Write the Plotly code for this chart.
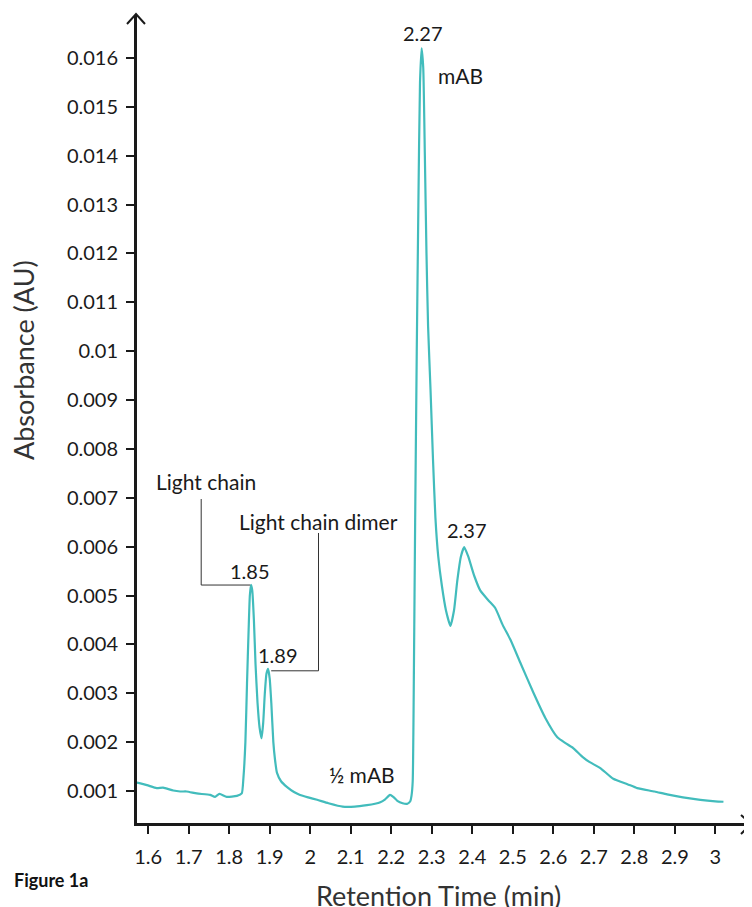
import plotly.graph_objects as go

# ---------------- data ----------------
time_min = [
    1.570, 1.572, 1.597, 1.621, 1.637, 1.662, 1.679, 1.695, 1.720, 1.753, 1.765, 1.776,
    1.794, 1.819, 1.831, 1.835, 1.840, 1.844, 1.848, 1.851, 1.854, 1.857, 1.861, 1.865,
    1.870, 1.875, 1.880, 1.884, 1.888, 1.892, 1.896, 1.900, 1.904, 1.909, 1.913, 1.918,
    1.928, 1.943, 1.960, 1.975, 1.995, 2.017, 2.045, 2.080, 2.110, 2.140, 2.160, 2.173,
    2.185, 2.197, 2.205, 2.215, 2.228, 2.240, 2.247, 2.250, 2.253, 2.256, 2.259, 2.263,
    2.267, 2.271, 2.275, 2.279, 2.283, 2.287, 2.291, 2.297, 2.303, 2.309, 2.316, 2.325,
    2.335, 2.346, 2.355, 2.363, 2.372, 2.380, 2.390, 2.405, 2.420, 2.440, 2.457, 2.475,
    2.494, 2.520, 2.551, 2.580, 2.610, 2.630, 2.649, 2.672, 2.690, 2.716, 2.748, 2.783,
    2.807, 2.850, 2.881, 2.920, 2.963, 3.000, 3.020,
]
absorbance = [
    0.00117, 0.00117, 0.00112, 0.00106, 0.00107, 0.00101, 0.00099, 0.00099, 0.00095, 0.00092, 0.00088, 0.00094,
    0.00088, 0.00090, 0.00095, 0.00125, 0.00200, 0.00320, 0.00430, 0.00500, 0.00522, 0.00510, 0.00450, 0.00360,
    0.00280, 0.00230, 0.00208, 0.00240, 0.00300, 0.00340, 0.00350, 0.00330, 0.00280, 0.00200, 0.00165, 0.00137,
    0.00120, 0.00108, 0.00098, 0.00092, 0.00087, 0.00082, 0.00075, 0.00068, 0.00068, 0.00071, 0.00074, 0.00077,
    0.00083, 0.00092, 0.00088, 0.00080, 0.00075, 0.00074, 0.00079, 0.00090, 0.00120, 0.00350, 0.00650, 0.01000,
    0.01300, 0.01550, 0.01620, 0.01580, 0.01400, 0.01200, 0.01050, 0.00920, 0.00780, 0.00660, 0.00580, 0.00520,
    0.00470, 0.00438, 0.00470, 0.00530, 0.00580, 0.00599, 0.00580, 0.00540, 0.00510, 0.00490, 0.00474, 0.00440,
    0.00410, 0.00360, 0.00301, 0.00250, 0.00210, 0.00198, 0.00188, 0.00170, 0.00159, 0.00147, 0.00125, 0.00114,
    0.00106, 0.00099, 0.00093, 0.00087, 0.00082, 0.00079, 0.00078,
]

x_tick_vals = [1.6, 1.7, 1.8, 1.9, 2.0, 2.1, 2.2, 2.3, 2.4, 2.5, 2.6, 2.7, 2.8, 2.9, 3.0]
x_tick_text = ["1.6", "1.7", "1.8", "1.9", "2", "2.1", "2.2", "2.3", "2.4", "2.5",
               "2.6", "2.7", "2.8", "2.9", "3"]
y_tick_vals = [0.001, 0.002, 0.003, 0.004, 0.005, 0.006, 0.007, 0.008, 0.009, 0.010,
               0.011, 0.012, 0.013, 0.014, 0.015, 0.016]
y_tick_text = ["0.001", "0.002", "0.003", "0.004", "0.005", "0.006", "0.007", "0.008",
               "0.009", "0.01", "0.011", "0.012", "0.013", "0.014", "0.015", "0.016"]

# peak / region labels: text, x, y, font size
label_text = ["2.27", "mAB", "2.37", "1.85", "1.89", "½ mAB", "Light chain", "Light chain dimer"]
label_x = [2.279, 2.370, 2.386, 1.852, 1.921, 2.128, 1.743, 2.020]
label_y = [0.01651, 0.01565, 0.00634, 0.00550, 0.00378, 0.00133, 0.00734, 0.00652]
label_size = [20, 21, 20, 20, 20, 21, 21, 21]

# leader lines (name label -> peak)
leader_lc_x = [1.7309, 1.7309, 1.8519]
leader_lc_y = [0.006975, 0.005215, 0.005215]
leader_dimer_x = [2.0205, 2.0205, 1.9037]
leader_dimer_y = [0.00628, 0.00346, 0.00346]

X_RANGE = [1.570, 3.088]
Y_RANGE = [0.000325, 0.01688]

FONT = "Lato, 'Open Sans', sans-serif"
TEXT = "#1a1a1a"
AXIS = "#1a1a1a"
TEAL = "#42bcbc"

fig = go.Figure()
fig.add_trace(go.Scatter(x=time_min, y=absorbance, mode="lines",
                         line=dict(color=TEAL, width=2.2, shape="spline", smoothing=0.5),
                         hoverinfo="skip", showlegend=False))
for lx, ly in [(leader_lc_x, leader_lc_y), (leader_dimer_x, leader_dimer_y)]:
    fig.add_trace(go.Scatter(x=lx, y=ly, mode="lines",
                             line=dict(color="#333333", width=1),
                             hoverinfo="skip", showlegend=False))

# the page body has an 8px margin: the figure sits at (8, 8) in the window
OFF = 8
W, H = 752 - OFF, 907 - OFF
ML, MR, MT, MB = 136 - OFF, 1, 15 - OFF, 83

fig.update_layout(
    width=W, height=H,
    margin=dict(l=ML, r=MR, t=MT, b=MB, pad=0, autoexpand=False),
    paper_bgcolor="white", plot_bgcolor="white",
    font=dict(family=FONT, color=TEXT, size=18),
    showlegend=False,
)
fig.update_xaxes(range=X_RANGE, showgrid=False, zeroline=False,
                 showline=True, linecolor=AXIS, linewidth=2,
                 ticks="outside", ticklen=8, tickwidth=2, tickcolor=AXIS,
                 tickvals=x_tick_vals, ticktext=x_tick_text,
                 tickfont=dict(size=20, family=FONT, color=TEXT),
                 ticklabelstandoff=6)
fig.update_yaxes(range=Y_RANGE, showgrid=False, zeroline=False,
                 showline=True, linecolor=AXIS, linewidth=2,
                 ticks="outside", ticklen=8, tickwidth=2, tickcolor=AXIS,
                 tickvals=y_tick_vals, ticktext=y_tick_text,
                 tickfont=dict(size=20, family=FONT, color=TEXT),
                 ticklabelstandoff=4)

for t, x, y, s in zip(label_text, label_x, label_y, label_size):
    fig.add_annotation(x=x, y=y, text=t, showarrow=False, xanchor="center", yanchor="middle",
                       font=dict(size=s, family=FONT, color=TEXT))

pw, ph = W - ML - MR, H - MT - MB


def px2paper(px, py):
    """window pixel -> paper coordinates"""
    fx, fy = px - OFF, py - OFF
    return (fx - ML) / pw, (H - MB - fy) / ph


# axis arrow heads (open chevrons)
ax0, ay0 = px2paper(127, 24)
ax1, ay1 = px2paper(136, 14)
ax2, ay2 = px2paper(145, 24)
fig.add_shape(type="path", xref="paper", yref="paper",
              path=f"M {ax0} {ay0} L {ax1} {ay1} L {ax2} {ay2}",
              line=dict(color=AXIS, width=2))
bx0, by0 = px2paper(741, 815)
bx1, by1 = px2paper(751, 824)
bx2, by2 = px2paper(741, 834)
fig.add_shape(type="path", xref="paper", yref="paper",
              path=f"M {bx0} {by0} L {bx1} {by1} L {bx2} {by2}",
              line=dict(color=AXIS, width=2))
fig.add_shape(type="line", xref="paper", yref="paper", x0=0, y0=0, x1=0, y1=ay1,
              line=dict(color=AXIS, width=2))
fig.add_shape(type="line", xref="paper", yref="paper", x0=0, y0=0, x1=bx1, y1=0,
              line=dict(color=AXIS, width=2))

# axis titles & figure caption
tx, ty = px2paper(23, 360)
fig.add_annotation(xref="paper", yref="paper", x=tx, y=ty, text="Absorbance (AU)",
                   textangle=-90, showarrow=False, xanchor="center", yanchor="middle",
                   font=dict(size=27, family=FONT, color="#333333"))
tx, ty = px2paper(438, 895)
fig.add_annotation(xref="paper", yref="paper", x=tx, y=ty, text="Retention Time (min)",
                   showarrow=False, xanchor="center", yanchor="middle",
                   font=dict(size=27, family=FONT, color="#333333"))
tx, ty = px2paper(12, 880)
fig.add_annotation(xref="paper", yref="paper", x=tx, y=ty, text="<b>Figure 1a</b>",
                   showarrow=False, xanchor="left", yanchor="middle",
                   font=dict(size=18, family=FONT, color="#111111"))

fig.write_html("out.html")
